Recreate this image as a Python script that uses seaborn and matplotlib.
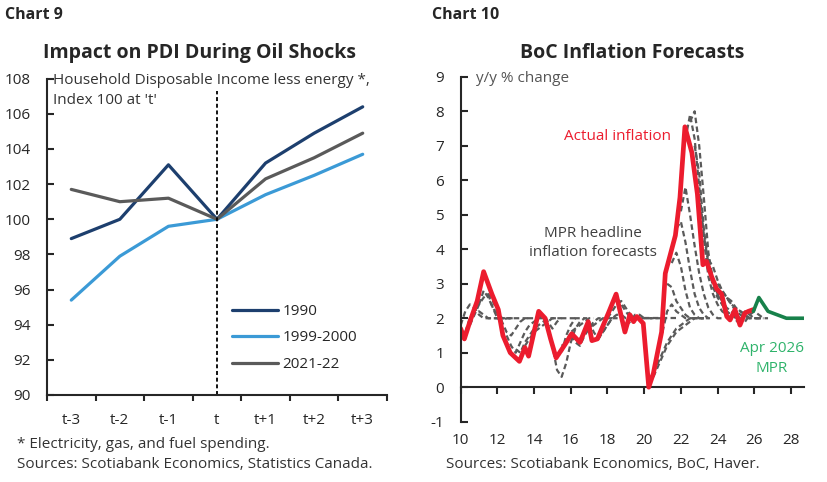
import numpy as np
import pandas as pd
import matplotlib
matplotlib.use("Agg")
import matplotlib.pyplot as plt
import seaborn as sns

# ---------------- data: chart 9 ----------------
periods = ['t-3', 't-2', 't-1', 't', 't+1', 't+2', 't+3']
pdi_1990 = [98.9, 100.0, 103.1, 100.0, 103.2, 104.9, 106.4]
pdi_1999 = [95.4, 97.9, 99.6, 100.0, 101.4, 102.5, 103.7]
pdi_2021 = [101.7, 101.0, 101.2, 100.0, 102.3, 103.5, 104.9]
episodes = ['1990', '1999-2000', '2021-22']

# ---------------- data: chart 10 ----------------
cpi_year = [10.0, 10.2, 10.5, 10.9, 11.25, 11.7, 12.05, 12.3, 12.7, 13.2, 13.5, 13.7,
            14.25, 14.6, 14.9, 15.2, 15.7, 16.05, 16.5, 16.95, 17.15, 17.45, 18.05,
            18.47, 18.95, 19.22, 19.42, 19.6, 19.95, 20.25, 20.5, 20.95, 21.15, 21.45,
            21.7, 21.95, 22.22, 22.6, 22.9, 23.2, 23.4, 23.68, 23.95, 24.22, 24.5,
            24.68, 24.95, 25.22, 25.49, 25.68, 25.95]
cpi_value = [1.7, 1.4, 1.9, 2.5, 3.35, 2.7, 2.25, 1.5, 1.0, 0.75, 1.15, 0.9,
             2.2, 2.0, 1.4, 0.85, 1.25, 1.55, 1.3, 1.9, 1.35, 1.4, 2.15,
             2.7, 1.6, 2.1, 1.9, 2.05, 1.85, 0.0, 0.4, 1.6, 3.3, 3.9,
             4.4, 5.5, 7.55, 6.8, 5.6, 3.55, 3.65, 3.2, 2.85, 2.7, 2.05,
             1.95, 2.25, 1.8, 2.15, 2.2, 2.25]

latest_year = [25.95, 26.25, 26.75, 27.25, 27.75, 28.75]
latest_value = [2.2, 2.6, 2.2, 2.1, 2.0, 2.0]

# MPR headline forecasts: start date, then quarterly path
mpr_start = [10.0, 10.25, 10.5, 11.0, 11.5, 12.0, 12.5, 13.0, 13.5, 14.25, 14.75,
             15.0, 15.5, 16.0, 16.5, 17.0, 17.5, 18.0, 18.5, 19.0, 19.5, 20.25,
             20.5, 21.0, 21.25, 21.5, 21.75, 22.0, 22.25, 22.5, 22.75, 23.0,
             23.5, 24.0, 24.5, 25.0, 25.5]
mpr_path = [
    [1.8, 2.2, 2.4, 2.3, 2.1, 2.0, 2.0, 2.0, 2.0, 2.0],
    [1.6, 2.0, 2.2, 2.2, 2.1, 2.0, 2.0, 2.0, 2.0],
    [1.8, 2.1, 2.4, 2.6, 2.7, 2.5, 2.2, 2.0, 2.0, 2.0],
    [2.4, 2.8, 2.6, 2.3, 2.1, 2.0, 2.0, 2.0, 2.0],
    [2.7, 2.3, 2.0, 1.9, 2.0, 2.0, 2.0, 2.0, 2.0, 2.0],
    [2.2, 1.9, 1.6, 1.5, 1.7, 1.9, 2.0, 2.0, 2.0, 2.0],
    [1.5, 1.2, 1.0, 1.3, 1.6, 1.8, 1.9, 2.0, 2.0, 2.0],
    [1.1, 1.0, 1.3, 1.5, 1.7, 1.8, 1.9, 2.0, 2.0, 2.0],
    [1.2, 1.4, 1.6, 1.7, 1.8, 1.9, 2.0, 2.0, 2.0],
    [2.0, 2.1, 1.9, 1.7, 1.9, 2.0, 2.0, 2.0, 2.0],
    [1.8, 1.2, 0.5, 0.3, 0.7, 1.3, 1.7, 1.9, 2.0, 2.0],
    [1.2, 0.9, 1.0, 1.5, 1.8, 2.0, 2.0, 2.0],
    [1.2, 1.3, 1.6, 1.7, 1.8, 1.9, 2.0, 2.0],
    [1.5, 1.3, 1.2, 1.5, 1.7, 1.9, 2.0, 2.0, 2.0],
    [1.4, 1.6, 1.7, 1.8, 1.9, 2.0, 2.0, 2.0],
    [1.9, 1.6, 1.4, 1.6, 1.8, 2.0, 2.0, 2.0],
    [1.4, 1.6, 1.8, 2.0, 2.1, 2.1, 2.0, 2.0, 2.0],
    [2.0, 2.2, 2.4, 2.5, 2.3, 2.1, 2.0, 2.0, 2.0],
    [2.6, 2.4, 2.2, 2.0, 2.0, 2.0, 2.0, 2.0, 2.0],
    [1.8, 1.9, 2.1, 2.1, 2.0, 2.0, 2.0, 2.0, 2.0],
    [2.0, 2.0, 2.0, 2.0, 2.0, 2.0, 2.0, 2.0, 2.0, 2.0],
    [0.2, 0.4, 0.7, 1.0, 1.3, 1.5, 1.7, 1.8, 1.9, 2.0, 2.0],
    [0.3, 0.6, 0.9, 1.2, 1.4, 1.6, 1.7, 1.8, 1.9, 2.0, 2.0, 2.0],
    [1.6, 2.2, 2.4, 2.2, 2.1, 2.0, 2.0, 2.0, 2.0, 2.0],
    [3.0, 2.9, 2.5, 2.3, 2.1, 2.0, 2.0, 2.0, 2.0],
    [3.6, 3.9, 3.5, 2.8, 2.3, 2.1, 2.0, 2.0, 2.0],
    [4.6, 4.8, 4.2, 3.4, 2.7, 2.3, 2.1, 2.0, 2.0],
    [5.1, 5.8, 5.0, 4.1, 3.3, 2.7, 2.3, 2.1, 2.0, 2.0],
    [7.2, 7.9, 7.2, 5.8, 4.3, 3.2, 2.7, 2.4, 2.2, 2.1, 2.0],
    [7.7, 8.0, 7.0, 5.5, 3.9, 3.1, 2.7, 2.4, 2.2, 2.0],
    [7.0, 6.2, 4.6, 3.6, 2.9, 2.6, 2.4, 2.2, 2.1, 2.0],
    [5.6, 4.4, 3.6, 3.1, 2.7, 2.5, 2.3, 2.2, 2.1, 2.0],
    [3.7, 3.5, 3.1, 2.8, 2.6, 2.4, 2.2, 2.1, 2.0, 2.0],
    [3.0, 2.8, 2.6, 2.5, 2.3, 2.2, 2.1, 2.0, 2.0, 2.0, 2.0],
    [2.6, 2.4, 2.3, 2.2, 2.1, 2.0, 2.0, 2.0, 2.0],
    [1.9, 2.0, 2.2, 2.1, 2.0, 2.0, 2.0],
    [1.9, 2.1, 2.2, 2.1, 2.0, 2.0],
]

# ---------------- style ----------------
sns.set_style("ticks")
plt.rcParams['font.family'] = ['Open Sans', 'DejaVu Sans']
plt.rcParams['axes.linewidth'] = 1.5
plt.rcParams['axes.unicode_minus'] = False

NAVY = '#1d3f6e'
LIGHT_BLUE = '#3b9ad6'
GREY = '#5a5a5a'
RED = '#ec1c2e'
GREEN = '#17814a'
GREEN_TXT = '#2fb36b'
W, H = 828, 482

fig = plt.figure(figsize=(W / 100, H / 100), dpi=100)


def fx(px):
    return px / W


def fy(py):
    return 1 - py / H


# =============== Chart 9 ===============
ax1 = fig.add_axes([fx(47), fy(395), fx(340), fy(78.7) - fy(395)])

df9 = pd.DataFrame({
    'period': periods * 3,
    'value': pdi_1990 + pdi_1999 + pdi_2021,
    'episode': np.repeat(episodes, len(periods)),
})
sns.lineplot(data=df9, x='period', y='value', hue='episode', sort=False,
             palette=[NAVY, LIGHT_BLUE, GREY], linewidth=2.3, ax=ax1)

ax1.axvline(periods.index('t'), ymin=0, ymax=(107.3 - 90) / 18,
            color='black', linestyle=(0, (2.2, 1.5)), linewidth=1.3)

ax1.set_xlim(-0.5, len(periods) - 0.5)
ax1.set_ylim(90, 108)
ax1.set_yticks(range(90, 109, 2))
ax1.set_xticks(np.arange(-0.5, len(periods), 1))
ax1.set_xticklabels([])
ax1.set_xticks(range(len(periods)), minor=True)
ax1.set_xticklabels(periods, minor=True)
ax1.tick_params(axis='x', which='major', direction='out', length=4, width=1.5)
ax1.tick_params(axis='x', which='minor', length=0, pad=13, labelsize=11)
ax1.tick_params(axis='y', direction='in', length=5, width=1.5, pad=12, labelsize=11)
ax1.set_xlabel('')
ax1.set_ylabel('')
for s in ['top', 'right']:
    ax1.spines[s].set_visible(False)

leg = ax1.legend(loc='upper left', bbox_to_anchor=(fx(232), fy(304)),
                 bbox_transform=fig.transFigure, frameon=False, borderpad=0,
                 borderaxespad=0, handlelength=3.0, handletextpad=0.3,
                 labelspacing=0.75, fontsize=11)
for ln in leg.get_lines():
    ln.set_linewidth(2.3)

fig.text(fx(5), fy(15), 'Chart 9', fontsize=11.5, fontweight='bold', va='center')
fig.text(fx(200), fy(53), 'Impact on PDI During Oil Shocks', fontsize=14,
         fontweight='bold', ha='center', va='center')
fig.text(fx(53), fy(80), 'Household Disposable Income less energy *,',
         fontsize=11, color='#333333', va='center')
fig.text(fx(53), fy(100), "Index 100 at 't'", fontsize=11, color='#333333', va='center')
fig.text(fx(17), fy(444), '* Electricity, gas, and fuel spending.', fontsize=11,
         color='#333333', va='center')
fig.text(fx(17), fy(464), 'Sources: Scotiabank Economics, Statistics Canada.',
         fontsize=11, color='#333333', va='center')

# =============== Chart 10 ===============
ax2 = fig.add_axes([fx(460.7), fy(421.7), fx(343.3), fy(76.8) - fy(421.7)])

rows = []
for i, (start, path) in enumerate(zip(mpr_start, mpr_path)):
    for q, v in enumerate(path):
        rows.append((i, start + 0.25 * q, v))
df_mpr = pd.DataFrame(rows, columns=['mpr', 'year', 'value'])
sns.lineplot(data=df_mpr, x='year', y='value', units='mpr', estimator=None,
             color=GREY, linewidth=1.6, linestyle=(0, (2.5, 1.5)), ax=ax2)

sns.lineplot(x=cpi_year, y=cpi_value, color=RED, linewidth=3.4, sort=False, ax=ax2)
sns.lineplot(x=latest_year, y=latest_value, color=GREEN, linewidth=2.6, sort=False, ax=ax2)

ax2.set_xlim(10, 28.71)
ax2.set_ylim(-1, 9)
ax2.set_yticks(range(-1, 10))
ax2.set_xticks(range(10, 29, 2))
ax2.set_xlabel('')
ax2.set_ylabel('')
ax2.tick_params(axis='x', length=0, pad=8, labelsize=11)
ax2.tick_params(axis='y', direction='in', length=5, width=1.5, pad=12, labelsize=11)
for s in ['top', 'right', 'bottom']:
    ax2.spines[s].set_visible(False)

# axis line through zero, ticks pointing down
zero_axis = ax2.secondary_xaxis(0.1)
zero_axis.set_xticks(range(10, 29, 2))
zero_axis.set_xticklabels([])
zero_axis.tick_params(axis='x', direction='out', length=5, width=1.5)
zero_axis.spines['bottom'].set_linewidth(1.5)

fig.text(fx(432), fy(15), 'Chart 10', fontsize=11.5, fontweight='bold', va='center')
fig.text(fx(632), fy(53), 'BoC Inflation Forecasts', fontsize=14,
         fontweight='bold', ha='center', va='center')
fig.text(fx(476), fy(79), 'y/y % change', fontsize=11, color='#555555', va='center')
fig.text(fx(618), fy(137), 'Actual inflation', fontsize=11, color=RED,
         ha='center', va='center')
fig.text(fx(593), fy(233), 'MPR headline', fontsize=11, color='#404040',
         ha='center', va='center')
fig.text(fx(593), fy(253), 'inflation forecasts', fontsize=11, color='#404040',
         ha='center', va='center')
fig.text(fx(772), fy(348), 'Apr 2026', fontsize=11, color=GREEN_TXT,
         ha='center', va='center')
fig.text(fx(772), fy(368), 'MPR', fontsize=11, color=GREEN_TXT,
         ha='center', va='center')
fig.text(fx(446), fy(464), 'Sources: Scotiabank Economics, BoC, Haver.',
         fontsize=11, color='#333333', va='center')

fig.savefig('out.png', dpi=100, facecolor='white')
